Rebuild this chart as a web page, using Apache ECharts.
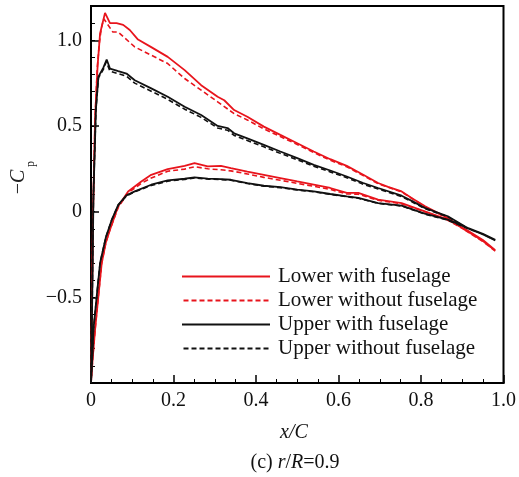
<!DOCTYPE html>
<html>
<head>
<meta charset="utf-8">
<script src="https://cdn.jsdelivr.net/npm/echarts@6/dist/echarts.min.js"></script>
<style>html,body{margin:0;padding:0;background:#fff;}#c{width:519px;height:477px;}</style>
</head>
<body>
<div id="c"></div>
<script>
// Series names (legend)
var seriesNames = ['Lower with fuselage', 'Lower without fuselage', 'Upper with fuselage', 'Upper without fuselage'];

// Tick values
var xTicks = [0, 0.2, 0.4, 0.6, 0.8, 1.0];
var yTicks = [-0.5, 0, 0.5, 1.0];

// Lower rotor, with fuselage: closed loop TE -> suction side -> LE -> pressure side -> TE  [x/C, -Cp]
var lowerWith = [
  [0.98,-0.225],[0.95,-0.17],[0.913,-0.114],[0.865,-0.037],[0.81,0.031],[0.78,0.075],[0.753,0.118],[0.72,0.145],[0.696,0.167],
  [0.66,0.215],[0.62,0.267],[0.58,0.306],[0.54,0.351],[0.5,0.399],[0.459,0.448],[0.419,0.496],[0.379,0.554],[0.347,0.593],
  [0.323,0.65],[0.307,0.67],[0.267,0.738],[0.227,0.826],[0.186,0.903],[0.146,0.96],[0.114,1.004],[0.094,1.06],[0.078,1.09],
  [0.062,1.10],[0.046,1.10],[0.034,1.16],[0.028,1.10],[0.022,1.04],[0.016,0.85],[0.010,0.55],[0.005,0.0],[0.002,-0.6],[0,-1.0],
  [0.004,-0.86],[0.01,-0.686],[0.018,-0.49],[0.026,-0.3],[0.036,-0.18],[0.046,-0.105],[0.066,0.031],[0.09,0.118],[0.122,0.176],
  [0.146,0.215],[0.186,0.248],[0.227,0.267],[0.251,0.283],[0.283,0.264],[0.315,0.267],[0.339,0.254],[0.379,0.234],[0.419,0.215],
  [0.459,0.196],[0.5,0.176],[0.54,0.157],[0.58,0.138],[0.62,0.109],[0.648,0.109],[0.696,0.07],[0.753,0.05],[0.809,0.002],
  [0.865,-0.047],[0.913,-0.11],[0.95,-0.165],[0.98,-0.225]
];

// Lower rotor, without fuselage
var lowerWithout = [
  [0.98,-0.23],[0.95,-0.175],[0.913,-0.118],[0.865,-0.04],[0.81,0.028],[0.753,0.115],[0.696,0.163],[0.66,0.21],[0.62,0.262],
  [0.58,0.30],[0.54,0.345],[0.5,0.392],[0.459,0.438],[0.419,0.483],[0.379,0.535],[0.347,0.572],[0.307,0.641],[0.267,0.709],
  [0.227,0.777],[0.186,0.864],[0.146,0.913],[0.106,0.961],[0.066,1.048],[0.053,1.048],[0.031,1.126],[0.025,1.07],[0.02,0.98],
  [0.015,0.83],[0.010,0.55],[0.005,0.0],[0.002,-0.6],[0,-1.0],
  [0.004,-0.86],[0.01,-0.686],[0.018,-0.49],[0.026,-0.3],[0.036,-0.18],[0.046,-0.105],[0.066,0.025],[0.09,0.11],[0.122,0.165],
  [0.146,0.196],[0.186,0.236],[0.227,0.248],[0.251,0.262],[0.283,0.25],[0.315,0.244],[0.339,0.238],[0.379,0.22],[0.419,0.2],
  [0.459,0.183],[0.5,0.165],[0.54,0.148],[0.58,0.13],[0.62,0.103],[0.648,0.102],[0.696,0.066],[0.753,0.046],[0.809,0.0],
  [0.865,-0.05],[0.913,-0.115],[0.95,-0.17],[0.98,-0.23]
];

// Upper rotor, with fuselage
var upperWith = [
  [0.98,-0.165],[0.95,-0.13],[0.913,-0.095],[0.865,-0.027],[0.809,0.022],[0.78,0.06],[0.753,0.093],[0.696,0.138],[0.66,0.167],
  [0.62,0.205],[0.58,0.24],[0.54,0.273],[0.5,0.312],[0.459,0.351],[0.419,0.39],[0.379,0.428],[0.347,0.457],[0.331,0.488],
  [0.307,0.50],[0.267,0.564],[0.227,0.612],[0.186,0.67],[0.146,0.719],[0.106,0.767],[0.086,0.806],[0.066,0.82],[0.046,0.835],
  [0.038,0.888],[0.03,0.84],[0.018,0.787],[0.012,0.6],[0.006,0.1],[0.003,-0.5],[0,-1.0],
  [0.003,-0.86],[0.006,-0.686],[0.014,-0.49],[0.022,-0.3],[0.036,-0.15],[0.05,-0.05],[0.066,0.04],[0.086,0.095],[0.106,0.118],
  [0.146,0.157],[0.186,0.182],[0.227,0.192],[0.251,0.2],[0.283,0.193],[0.315,0.19],[0.339,0.186],[0.379,0.167],[0.419,0.151],
  [0.459,0.143],[0.5,0.128],[0.54,0.118],[0.58,0.103],[0.62,0.089],[0.648,0.08],[0.696,0.05],[0.753,0.035],[0.809,-0.012],
  [0.865,-0.047],[0.913,-0.095],[0.95,-0.13],[0.98,-0.165]
];

// Upper rotor, without fuselage
var upperWithout = [
  [0.98,-0.168],[0.95,-0.133],[0.913,-0.098],[0.865,-0.03],[0.809,0.018],[0.78,0.055],[0.753,0.088],[0.696,0.132],[0.66,0.16],
  [0.62,0.198],[0.58,0.232],[0.54,0.265],[0.5,0.303],[0.459,0.34],[0.419,0.378],[0.379,0.415],[0.347,0.445],[0.331,0.475],
  [0.307,0.488],[0.267,0.55],[0.227,0.598],[0.186,0.655],[0.146,0.703],[0.106,0.75],[0.086,0.79],[0.066,0.805],[0.046,0.82],
  [0.037,0.875],[0.03,0.83],[0.018,0.78],[0.012,0.6],[0.006,0.1],[0.003,-0.5],[0,-1.0],
  [0.003,-0.86],[0.006,-0.686],[0.014,-0.49],[0.022,-0.3],[0.036,-0.15],[0.05,-0.05],[0.066,0.038],[0.086,0.092],[0.106,0.115],
  [0.146,0.153],[0.186,0.178],[0.227,0.188],[0.251,0.196],[0.283,0.19],[0.315,0.187],[0.339,0.183],[0.379,0.164],[0.419,0.149],
  [0.459,0.14],[0.5,0.126],[0.54,0.116],[0.58,0.101],[0.62,0.087],[0.648,0.078],[0.696,0.048],[0.753,0.033],[0.809,-0.014],
  [0.865,-0.05],[0.913,-0.098],[0.95,-0.133],[0.98,-0.168]
];

var RED = '#e8141c';
var BLACK = '#111111';
var FONT = 'Liberation Serif';

function fmt(v) {
  var r = Math.round(v * 10) / 10;
  if (r === 0) return '0';
  var s = Math.abs(r).toFixed(1);
  return (r < 0 ? '\u2212' : '') + s;
}

// legend icons: solid bar and dashed bars (shape paths, 88 x 2)
var solidIcon = 'path://M0,0h88v2h-88z';
var dashedIcon = (function () {
  var p = 'path://';
  for (var x = 0; x < 88; x += 8) { p += 'M' + x + ',0h' + Math.min(5, 88 - x) + 'v2h-' + Math.min(5, 88 - x) + 'z'; }
  return p;
})();

var chart = echarts.init(document.getElementById('c'), null, {renderer: 'canvas'});
chart.setOption({
  animation: false,
  backgroundColor: '#fff',
  grid: {left: 91, right: 14, top: 6, bottom: 94, show: true, borderColor: '#000', borderWidth: 2, backgroundColor: 'transparent'},
  legend: {
    orient: 'vertical', left: 182, top: 266, padding: 0,
    itemWidth: 88, itemHeight: 2, itemGap: 3,
    data: [
      {name: seriesNames[0], icon: solidIcon},
      {name: seriesNames[1], icon: dashedIcon},
      {name: seriesNames[2], icon: solidIcon},
      {name: seriesNames[3], icon: dashedIcon}
    ],
    textStyle: {fontFamily: FONT, fontSize: 21, color: '#111', lineHeight: 21, padding: [0, 0, 0, 3]}
  },
  xAxis: [{
    type: 'value', min: 0, max: 1, interval: 0.2,
    axisLine: {onZero: false, lineStyle: {color: '#000', width: 2}},
    axisTick: {inside: true, length: 8, lineStyle: {color: '#000', width: 1.5}},
    minorTick: {show: true, splitNumber: 4, length: 4, lineStyle: {color: '#000', width: 1}},
    splitLine: {show: false},
    axisLabel: {fontFamily: FONT, fontSize: 20, color: '#111', margin: 8, formatter: function (v) {
      for (var i = 0; i < xTicks.length; i++) { if (Math.abs(xTicks[i] - v) < 1e-6) return fmt(v); }
      return '';
    }}
  }],
  yAxis: [{
    type: 'value', min: -1, max: 1.2, interval: 0.5,
    axisLine: {onZero: false, lineStyle: {color: '#000', width: 2}},
    axisTick: {inside: true, length: 8, lineStyle: {color: '#000', width: 1.5}},
    splitLine: {show: false},
    axisLabel: {fontFamily: FONT, fontSize: 20, color: '#111', margin: 9, formatter: function (v) {
      for (var i = 0; i < yTicks.length; i++) { if (Math.abs(yTicks[i] - v) < 1e-6) return fmt(v); }
      return '';
    }}
  }, {
    type: 'value', min: -1, max: 1.2, interval: 0.1, position: 'left',
    axisLine: {show: false, onZero: false},
    axisTick: {show: true, inside: true, length: 4, lineStyle: {color: '#000', width: 1}},
    splitLine: {show: false},
    axisLabel: {show: false}
  }],
  series: [
    {name: seriesNames[0], type: 'line', data: lowerWith, showSymbol: false, symbol: 'none', z: 3,
     lineStyle: {color: RED, width: 1.8, type: 'solid'}, itemStyle: {color: RED}},
    {name: seriesNames[1], type: 'line', data: lowerWithout, showSymbol: false, symbol: 'none', z: 3,
     lineStyle: {color: RED, width: 1.6, type: [5, 3]}, itemStyle: {color: RED}},
    {name: seriesNames[2], type: 'line', data: upperWith, showSymbol: false, symbol: 'none', z: 4,
     lineStyle: {color: BLACK, width: 1.8, type: 'solid'}, itemStyle: {color: BLACK}},
    {name: seriesNames[3], type: 'line', data: upperWithout, showSymbol: false, symbol: 'none', z: 4,
     lineStyle: {color: BLACK, width: 1.6, type: [5, 3]}, itemStyle: {color: BLACK}}
  ],
  graphic: [
    {type: 'text', x: 19, y: 182, rotation: Math.PI / 2,
     style: {text: '\u2212{i|C}', align: 'center', verticalAlign: 'middle', fontFamily: FONT, fontSize: 20, fill: '#222',
       rich: {i: {fontFamily: FONT, fontStyle: 'italic', fontSize: 20, fill: '#222'}}}},
    {type: 'text', x: 31, y: 164, rotation: Math.PI / 2,
     style: {text: 'p', align: 'center', verticalAlign: 'middle', fontFamily: FONT, fontSize: 12, fill: '#222'}},
    {type: 'text', x: 294, y: 433,
     style: {text: 'x/C', align: 'center', verticalAlign: 'middle', fontFamily: FONT, fontStyle: 'italic', fontSize: 20, fill: '#111'}},
    {type: 'text', x: 295, y: 463,
     style: {text: '(c) {i|r}/{i|R}=0.9', align: 'center', verticalAlign: 'middle', fontFamily: FONT, fontSize: 20, fill: '#111',
       rich: {i: {fontFamily: FONT, fontStyle: 'italic', fontSize: 20, fill: '#111'}}}}
  ]
});
</script>
</body>
</html>
